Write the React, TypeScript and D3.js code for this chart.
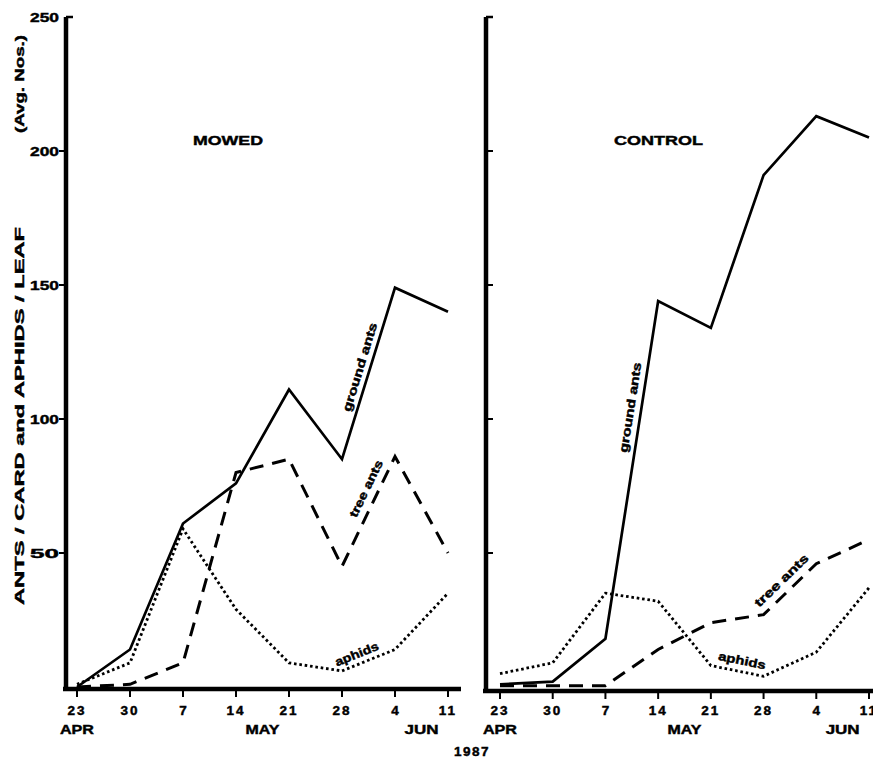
import React from "react";
import * as d3 from "d3";

// week-of-1987 sampling dates (APR 23 ... JUN 11)
const dates = ["23", "30", "7", "14", "21", "28", "4", "11"];
const months = ["APR", "MAY", "JUN"];
const yTicks = [50, 100, 150, 200, 250];

// avg nos. per card / leaf
const mowedGround = [0, 14, 61, 76, 111, 85, 149, 140];
const mowedTree = [0, 1, 9, 80, 85, 45, 86, 50];
const mowedAphids = [1, 9, 59, 29, 9, 6, 14, 35];

const controlGround = [1, 2, 18, 144, 134, 191, 213, 205];
const controlTree = [0.5, 0.5, 0.5, 14, 24, 27, 46, 55];
const controlAphids = [5, 9, 35, 32, 8, 4, 13, 37];

const W = 873;
const H = 762;
const FONT = "'Liberation Sans', Arial, Helvetica, sans-serif";
const monthAt = [0, 3.5, 6.5];

const styles = {
  ground: { dash: null, width: 2.7 },
  tree: { dash: "14 9", width: 3 },
  aphids: { dash: "2.6 2.8", width: 2.8 },
};

// heavy lettering like the original
const bold = { fontFamily: FONT, fontWeight: "bold", stroke: "#000", strokeWidth: 0.45 };

function SeriesLabel({ x, y, vals, seg, t, off, text, len }) {
  const x0 = x(seg), x1 = x(seg + 1);
  const y0 = y(vals[seg]), y1 = y(vals[seg + 1]);
  const ang = (Math.atan2(y1 - y0, x1 - x0) * 180) / Math.PI;
  const px = x0 + (x1 - x0) * t;
  const py = y0 + (y1 - y0) * t;
  return (
    <g transform={`translate(${px},${py}) rotate(${ang})`}>
      <text x={0} y={off} textAnchor="middle" {...bold} fontSize={12} textLength={len} lengthAdjust="spacingAndGlyphs">
        {text}
      </text>
    </g>
  );
}

function Panel({ title, titleX, titleLen, range, axisX, baseY, axisEnd, ground, tree, aphids, labels, leftTicks }) {
  const x = d3.scaleLinear().domain([0, dates.length - 1]).range(range);
  const y = d3.scaleLinear().domain([0, 250]).range([687, 17]);
  const line = d3
    .line<number>()
    .x((d, i) => x(i))
    .y((d) => y(d));

  const series = [
    { vals: ground, st: styles.ground },
    { vals: tree, st: styles.tree },
    { vals: aphids, st: styles.aphids },
  ];

  return (
    <g>
      {series.map((s, i) => (
        <path
          key={i}
          d={line(s.vals) || ""}
          fill="none"
          stroke="#000"
          strokeWidth={s.st.width}
          strokeDasharray={s.st.dash || undefined}
          strokeLinejoin="miter"
        />
      ))}

      {labels.map((l, i) => (
        <SeriesLabel key={i} x={x} y={y} {...l} />
      ))}

      {/* axes */}
      <line x1={axisX} x2={axisX} y1={y(250)} y2={baseY + 2} stroke="#000" strokeWidth={4.5} />
      <line x1={axisX - 3} x2={axisEnd} y1={baseY} y2={baseY} stroke="#000" strokeWidth={4.5} />
      <line x1={axisX} x2={axisX + 7} y1={y(250)} y2={y(250)} stroke="#000" strokeWidth={2.5} />
      {yTicks.slice(0, 4).map((v) => (
        <line
          key={v}
          x1={leftTicks ? axisX - 7 : axisX}
          x2={leftTicks ? axisX : axisX + 7}
          y1={y(v)}
          y2={y(v)}
          stroke="#000"
          strokeWidth={2}
        />
      ))}
      {leftTicks &&
        yTicks.map((v) => (
          <text
            key={v}
            x={axisX - 7}
            y={y(v) + 5}
            textAnchor="end"
            {...bold}
            fontSize={13.5}
            textLength={29}
            lengthAdjust="spacingAndGlyphs"
          >
            {v}
          </text>
        ))}

      {dates.map((d, i) => (
        <g key={i}>
          <line x1={x(i)} x2={x(i)} y1={baseY} y2={baseY + 8} stroke="#000" strokeWidth={2} />
          <text x={x(i)} y={715} textAnchor="middle" {...bold} fontSize={13.5} letterSpacing={d.length > 1 ? 2 : 0}>
            {d}
          </text>
        </g>
      ))}
      {months.map((m, i) => (
        <text
          key={m}
          x={x(monthAt[i])}
          y={734}
          textAnchor="middle"
          {...bold}
          fontSize={13.5}
          textLength={34}
          lengthAdjust="spacingAndGlyphs"
        >
          {m}
        </text>
      ))}

      <text x={titleX} y={145} {...bold} fontSize={13.5} textLength={titleLen} lengthAdjust="spacingAndGlyphs">
        {title}
      </text>
    </g>
  );
}

export default function App() {
  return (
    <svg width={W} height={H} style={{ display: "block", position: "absolute", left: 0, top: 0, background: "#fff" }}>
      <rect width={W} height={H} fill="#fff" />
      <Panel
        title="MOWED"
        titleX={193}
        titleLen={70}
        range={[77, 448]}
        axisX={66}
        baseY={689}
        axisEnd={461}
        ground={mowedGround}
        tree={mowedTree}
        aphids={mowedAphids}
        leftTicks={true}
        labels={[
          { vals: mowedGround, seg: 5, t: 0.52, off: -6, text: "ground ants", len: 92 },
          { vals: mowedTree, seg: 5, t: 0.66, off: -8, text: "tree ants", len: 62 },
          { vals: mowedAphids, seg: 5, t: 0.35, off: -6, text: "aphids", len: 46 },
        ]}
      />
      <Panel
        title="CONTROL"
        titleX={614}
        titleLen={89}
        range={[500, 869]}
        axisX={486}
        baseY={691}
        axisEnd={873}
        ground={controlGround}
        tree={controlTree}
        aphids={controlAphids}
        leftTicks={false}
        labels={[
          { vals: controlGround, seg: 2, t: 0.68, off: -7, text: "ground ants", len: 91 },
          { vals: controlTree, seg: 5, t: 0.5, off: -8, text: "tree ants", len: 70 },
          { vals: controlAphids, seg: 4, t: 0.55, off: -7, text: "aphids", len: 48 },
        ]}
      />

      <g transform="translate(24,0) rotate(-90)">
        <text x={-605} y={0} {...bold} fontSize={13.5} textLength={378} lengthAdjust="spacingAndGlyphs">
          ANTS / CARD and APHIDS / LEAF
        </text>
        <text x={-133} y={0} {...bold} fontSize={13.5} textLength={98} lengthAdjust="spacingAndGlyphs">
          (Avg. Nos.)
        </text>
      </g>

      <text x={472} y={756} textAnchor="middle" {...bold} fontSize={13.5} letterSpacing={1.5}>
        1987
      </text>
    </svg>
  );
}
